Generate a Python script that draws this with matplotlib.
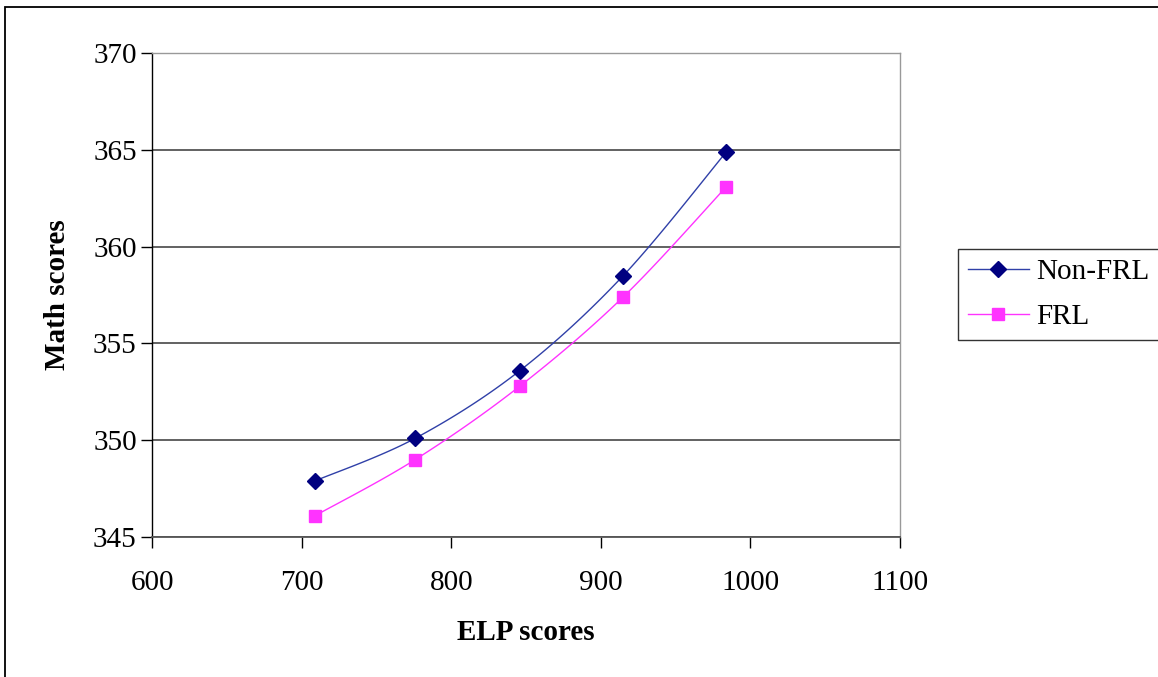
import numpy as np
import matplotlib
matplotlib.use("Agg")
import matplotlib.pyplot as plt
from matplotlib.patches import Rectangle

# values
elp = [709, 776, 846, 915, 984]
non_frl = [347.9, 350.1, 353.6, 358.5, 364.9]
frl = [346.1, 349.0, 352.8, 357.4, 363.1]
xticks = [600, 700, 800, 900, 1000, 1100]
yticks = [345, 350, 355, 360, 365, 370]


def smooth(x, y, n=30):
    # excel-like smoothed line: bezier segments, catmull-rom style control points
    x = np.asarray(x, float)
    y = np.asarray(y, float)
    px, py = [], []
    k = 1 / 6.0
    for i in range(len(x) - 1):
        x0, y0 = (x[i - 1], y[i - 1]) if i > 0 else (x[i], y[i])
        x3, y3 = (x[i + 2], y[i + 2]) if i + 2 < len(x) else (x[i + 1], y[i + 1])
        c1 = (x[i] + (x[i + 1] - x0) * k, y[i] + (y[i + 1] - y0) * k)
        c2 = (x[i + 1] - (x3 - x[i]) * k, y[i + 1] - (y3 - y[i]) * k)
        t = np.linspace(0, 1, n)
        bx = (1 - t)**3 * x[i] + 3 * (1 - t)**2 * t * c1[0] + 3 * (1 - t) * t**2 * c2[0] + t**3 * x[i + 1]
        by = (1 - t)**3 * y[i] + 3 * (1 - t)**2 * t * c1[1] + 3 * (1 - t) * t**2 * c2[1] + t**3 * y[i + 1]
        px.extend(bx)
        py.extend(by)
    return px, py


plt.rcParams['font.family'] = ['Liberation Serif', 'DejaVu Serif']

fig = plt.figure(figsize=(11.58, 6.77), dpi=100)
ax = fig.add_axes([152 / 1158, 1 - 537 / 677, 748 / 1158, 484 / 677])

# outer chart frame (cut off at right and bottom like the reference)
fig.patches.append(Rectangle((5 / 1158, -0.1), 1.2, 1 - 7 / 677 + 0.1,
                             transform=fig.transFigure, fill=False,
                             edgecolor='black', linewidth=1.3))

navy = '#000080'
mag = '#ff33ff'

sx, sy = smooth(elp, non_frl)
ax.plot(sx, sy, color='#3040a8', lw=1.0, zorder=3)
sx, sy = smooth(elp, frl)
ax.plot(sx, sy, color=mag, lw=1.0, zorder=3)
ax.plot(elp, non_frl, linestyle='none', marker='D', ms=8.5, color=navy, zorder=4)
ax.plot(elp, frl, linestyle='none', marker='s', ms=8.5, color=mag, zorder=4)

# legend proxies
ax.plot([], [], color='#3040a8', lw=1.0, marker='D', ms=8.5, mfc=navy, mec=navy, label='Non-FRL')
ax.plot([], [], color=mag, lw=1.0, marker='s', ms=8.5, mfc=mag, mec=mag, label='FRL')

ax.set_xlim(600, 1100)
ax.set_ylim(345, 370)
ax.set_xticks(xticks)
ax.set_yticks(yticks)
ax.tick_params(axis='both', labelsize=21, direction='out', length=8, width=1, color='black')
ax.tick_params(axis='x', pad=16)
ax.tick_params(axis='y', pad=3)

ax.yaxis.grid(True, color='#555555', lw=1.3)
ax.set_axisbelow(True)
ax.spines['left'].set_color('black')
ax.spines['left'].set_linewidth(1.0)
ax.spines['bottom'].set_color('#555555')
ax.spines['bottom'].set_linewidth(1.3)
for s in ['top', 'right']:
    ax.spines[s].set_color('#999999')
    ax.spines[s].set_linewidth(1.0)

ax.set_xlabel('ELP scores', fontsize=21, fontweight='bold', labelpad=16)
ax.set_ylabel('Math scores', fontsize=21, fontweight='bold', labelpad=16)

leg = fig.legend(loc='upper left', bbox_to_anchor=(958 / 1158, 1 - 249 / 677),
                 fontsize=21, frameon=True, fancybox=False, edgecolor='black',
                 handlelength=2.1, borderpad=0.33, labelspacing=0.65,
                 handletextpad=0.25, borderaxespad=0)
leg.get_frame().set_linewidth(1.0)

fig.savefig('out.png', dpi=100)
